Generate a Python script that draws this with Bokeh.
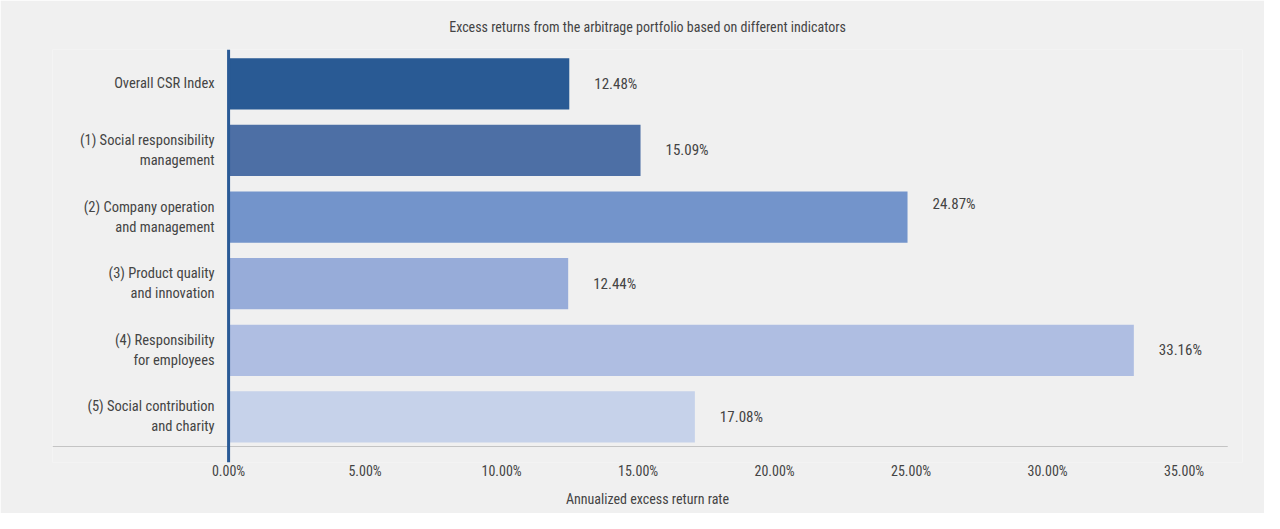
from bokeh.plotting import figure
from bokeh.models import ColumnDataSource, FixedTicker, PrintfTickFormatter, Span, Range1d
from bokeh.core.properties import value
from bokeh.embed import file_html
from bokeh.resources import INLINE

categories = [
    "Overall CSR Index",
    "(1) Social responsibility\nmanagement",
    "(2) Company operation\nand management",
    "(3) Product quality\nand innovation",
    "(4) Responsibility\nfor employees",
    "(5) Social contribution\nand charity",
]
returns = [12.48, 15.09, 24.87, 12.44, 33.16, 17.08]
value_labels = ["12.48%", "15.09%", "24.87%", "12.44%", "33.16%", "17.08%"]
tick_values = [0, 5, 10, 15, 20, 25, 30, 35]
colors = ["#295a94", "#4d6fa5", "#7394cb", "#97acd9", "#afbee2", "#c6d2ea"]

FONT = "Liberation Sans Narrow, Roboto Condensed, DejaVu Sans Condensed, sans-serif"
BG = "#f0f0f0"
TXT = "#444444"

pos = list(range(len(categories)))
label_dy = [0, 0, -13, 0, 0, 0]  # one label sits higher in the original

src = ColumnDataSource(dict(
    y=pos, r=returns, cat=categories, lab=value_labels, color=colors, dy=label_dy,
))

p = figure(
    width=1264, height=513,
    x_range=Range1d(-6.45, 37.14), y_range=Range1d(5.685, -0.516),
    output_backend="svg", toolbar_location=None,
    min_border_left=52, min_border_right=22, min_border_top=49, min_border_bottom=51,
    title="Excess returns from the arbitrage portfolio based on different indicators",
)
p.background_fill_color = BG
p.border_fill_color = BG
p.outline_line_color = None
p.xgrid.visible = False
p.ygrid.visible = False

p.title.align = "center"
p.title.text_font = FONT
p.title.text_font_size = "14px"
p.title.text_font_style = "normal"
p.title.text_color = TXT
p.title.standoff = 29

p.hbar(y="y", right="r", left=0, height=0.77, color="color", line_color=None, source=src)

# bottom baseline
p.segment(x0=-6.45, x1=36.6, y0=5.445, y1=5.445, line_color="#c4c4c4", line_width=1.2)
# zero line
p.add_layout(Span(location=0, dimension="height", line_color="#2a5a96", line_width=3))

p.text(x=0, y="y", text="cat", source=src, x_offset=-14, text_align="right",
       text_baseline="middle", text_font=value(FONT), text_font_size="14.5px",
       text_color=TXT, text_line_height=1.17)
p.text(x="r", y="y", text="lab", source=src, x_offset=25, y_offset="dy", text_align="left",
       text_baseline="middle", text_font=value(FONT), text_font_size="15px", text_color=TXT)

p.yaxis.visible = False
xa = p.xaxis[0]
xa.ticker = FixedTicker(ticks=tick_values)
xa.formatter = PrintfTickFormatter(format="%.2f%%")
xa.axis_line_color = None
xa.major_tick_line_color = None
xa.minor_tick_line_color = None
xa.major_tick_out = 0
xa.major_tick_in = 0
xa.major_label_standoff = 0
xa.major_label_text_font = FONT
xa.major_label_text_font_size = "14px"
xa.major_label_text_color = TXT
xa.axis_label = "Annualized excess return rate"
xa.axis_label_text_font = FONT
xa.axis_label_text_font_size = "14px"
xa.axis_label_text_font_style = "normal"
xa.axis_label_text_color = TXT
xa.axis_label_standoff = 9

open("out.html", "w").write(file_html(p, INLINE))
